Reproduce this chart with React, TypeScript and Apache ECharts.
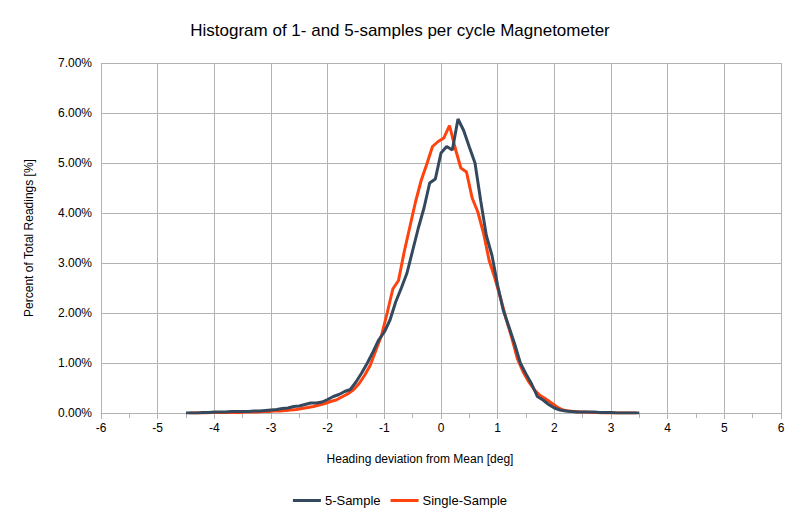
import React, { useEffect, useRef } from "react";
import * as echarts from "echarts";

const title = "Histogram of 1- and 5-samples per cycle Magnetometer";
const xAxisName = "Heading deviation from Mean [deg]";
const yAxisName = "Percent of Total Readings [%]";
const seriesNames = ["5-Sample", "Single-Sample"];

// 5-sample: bins from -4.5 to 3.5, step 0.1
const fiveStart = -4.5;
const fiveValues = [
  0, 0, 0, 0.01, 0.01, 0.02, 0.02, 0.02, 0.03, 0.03,
  0.03, 0.03, 0.04, 0.04, 0.05, 0.06, 0.07, 0.09, 0.1, 0.13,
  0.14, 0.17, 0.2, 0.2, 0.22, 0.27, 0.33, 0.37, 0.43, 0.47,
  0.62, 0.8, 1.0, 1.22, 1.46, 1.62, 1.86, 2.22, 2.5, 2.8,
  3.25, 3.7, 4.1, 4.6, 4.68, 5.2, 5.33, 5.26, 5.88, 5.65,
  5.32, 5.0, 4.25, 3.55, 3.15, 2.55, 2.05, 1.72, 1.38, 1.0,
  0.78, 0.58, 0.33, 0.26, 0.17, 0.1, 0.06, 0.04, 0.03, 0.02,
  0.02, 0.02, 0.02, 0.01, 0.01, 0.01, 0, 0, 0, 0,
  0,
];

// single-sample: bins from -4.45 to 3.45, step 0.1
const singleStart = -4.45;
const singleValues = [
  0, 0, 0, 0, 0.01, 0.01, 0.01, 0.01, 0.01, 0.01,
  0.02, 0.02, 0.02, 0.03, 0.03, 0.04, 0.04, 0.05, 0.06, 0.07,
  0.09, 0.11, 0.13, 0.16, 0.19, 0.23, 0.26, 0.32, 0.38, 0.46,
  0.58, 0.75, 0.95, 1.25, 1.55, 2.0, 2.48, 2.65, 3.22, 3.72,
  4.22, 4.65, 4.98, 5.33, 5.43, 5.5, 5.75, 5.3, 4.9, 4.82,
  4.3, 4.02, 3.6, 3.05, 2.7, 2.3, 1.88, 1.5, 1.08, 0.82,
  0.62, 0.46, 0.35, 0.28, 0.2, 0.12, 0.06, 0.04, 0.03, 0.02,
  0.02, 0.01, 0.01, 0, 0, 0, 0, 0, 0, 0,
];

const toPairs = (start: number, vals: number[]) =>
  vals.map((v, i) => [Math.round((start + i * 0.1) * 100) / 100, v]);

const colors = ["#34495e", "#ff420e"];
const gridColor = "#b3b3b3";
const font = "'Liberation Sans', Arial, sans-serif";

export default function App() {
  const ref = useRef<HTMLDivElement>(null);
  useEffect(() => {
    if (!ref.current) return;
    const chart = echarts.init(ref.current, null, { renderer: "svg" });
    chart.setOption({
      animation: false,
      backgroundColor: "#ffffff",
      textStyle: { fontFamily: font },
      title: {
        text: title,
        left: "center",
        top: 17,
        textStyle: { fontFamily: font, fontSize: 17, fontWeight: "normal", color: "#000" },
      },
      legend: {
        bottom: 2,
        left: "center",
        itemWidth: 28,
        itemHeight: 3,
        itemGap: 10,
        icon: "rect",
        textStyle: { fontFamily: font, fontSize: 13, color: "#000", padding: [0, 0, 0, -1] },
        data: seriesNames,
      },
      grid: { left: 101, right: 19, top: 63, bottom: 101, containLabel: false },
      xAxis: {
        type: "value",
        min: -6,
        max: 6,
        interval: 1,
        name: xAxisName,
        nameLocation: "middle",
        nameGap: 40,
        nameTextStyle: { fontFamily: font, fontSize: 12, color: "#000", padding: [0, 42, 0, 0] },
        axisLine: { show: true, onZero: false, lineStyle: { color: gridColor } },
        axisTick: { show: true, length: 6, lineStyle: { color: gridColor } },
        minorTick: { show: true, splitNumber: 2, length: 5, lineStyle: { color: gridColor } },
        splitLine: { show: true, lineStyle: { color: gridColor, width: 1 } },
        axisLabel: { fontFamily: font, fontSize: 12, color: "#000", margin: 9 },
      },
      yAxis: {
        type: "value",
        min: 0,
        max: 7,
        interval: 1,
        name: yAxisName,
        nameLocation: "middle",
        nameGap: 66,
        nameTextStyle: { fontFamily: font, fontSize: 12, color: "#000" },
        axisLine: { show: true, lineStyle: { color: gridColor } },
        axisTick: { show: true, length: 5, lineStyle: { color: gridColor } },
        splitLine: { show: true, lineStyle: { color: gridColor, width: 1 } },
        axisLabel: {
          fontFamily: font,
          fontSize: 12,
          color: "#000",
          margin: 9,
          formatter: (v: number) => v.toFixed(2) + "%",
        },
      },
      series: [
        {
          name: seriesNames[0],
          type: "line",
          data: toPairs(fiveStart, fiveValues),
          showSymbol: false,
          symbol: "none",
          z: 4,
          lineStyle: { color: colors[0], width: 3 },
          itemStyle: { color: colors[0] },
        },
        {
          name: seriesNames[1],
          type: "line",
          data: toPairs(singleStart, singleValues),
          showSymbol: false,
          symbol: "none",
          z: 3,
          lineStyle: { color: colors[1], width: 3 },
          itemStyle: { color: colors[1] },
        },
      ],
    });
    return () => chart.dispose();
  }, []);
  return (
    <div
      ref={ref}
      style={{ position: "fixed", left: 0, top: 0, width: 800, height: 514 }}
    />
  );
}
